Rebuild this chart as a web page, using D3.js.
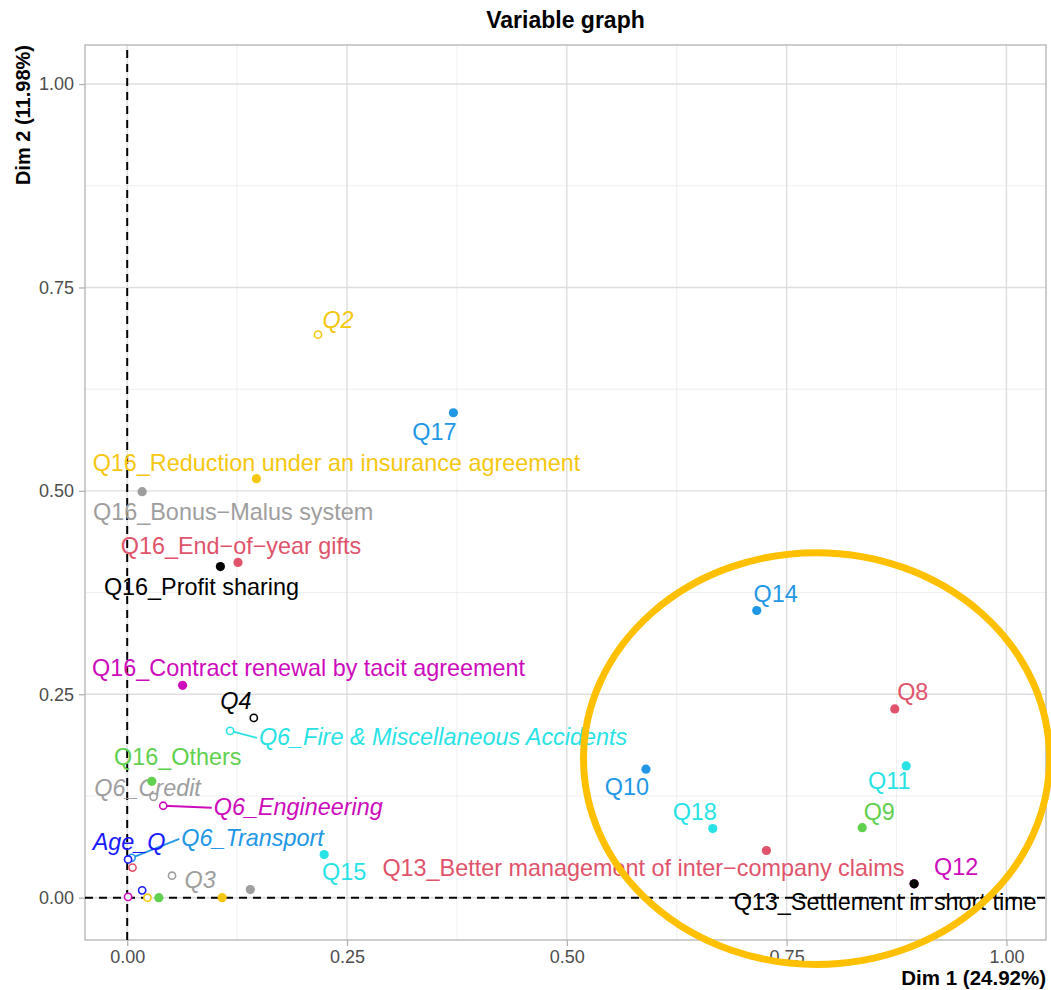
<!DOCTYPE html>
<html lang="en">
<head>
<meta charset="utf-8">
<title>Variable graph</title>
<script src="https://d3js.org/d3.v7.min.js"></script>
<style>
  body { margin: 0; background: #fff; }
  svg { font-family: "Liberation Sans", Arial, sans-serif; }
</style>
</head>
<body>
<div id="chart"></div>
<script>
// variables (active = filled, supplementary = open)
var varNames = ["Q2", "Q17", "Q16_Reduction under an insurance agreement", "Q16_Bonus\u2212Malus system",
  "Q16_End\u2212of\u2212year gifts", "Q16_Profit sharing", "Q16_Contract renewal by tacit agreement", "Q4",
  "Q6_Fire & Miscellaneous Accidents", "Q16_Others", "Q6_Credit", "Q6_Engineering", "Q6_Transport", "Age_Q",
  "p1", "Q3", "p2", "p3", "p4", "p5", "p6", "p7", "Q15",
  "Q13_Better management of inter\u2212company claims", "Q12", "Q13_Settlement in short time",
  "Q14", "Q8", "Q11", "Q10", "Q18", "Q9"];
var dim1 = [0.217, 0.371, 0.147, 0.017, 0.126, 0.106, 0.063, 0.144,
  0.117, 0.028, 0.030, 0.041, 0.005, 0.001,
  0.006, 0.051, 0.017, 0.023, 0.036, 0.108, 0.140, 0.001, 0.224,
  0.727, 0.895, 0.895,
  0.716, 0.873, 0.886, 0.590, 0.666, 0.836];
var dim2 = [0.692, 0.596, 0.515, 0.499, 0.412, 0.407, 0.261, 0.221,
  0.205, 0.143, 0.124, 0.113, 0.049, 0.047,
  0.037, 0.027, 0.009, 0.000, 0.000, 0.000, 0.010, 0.001, 0.053,
  0.058, 0.017, 0.017,
  0.353, 0.232, 0.162, 0.158, 0.085, 0.086];
var isSupp = [1, 0, 0, 0, 0, 0, 0, 1,
  1, 0, 1, 1, 1, 1,
  1, 1, 1, 1, 0, 0, 0, 1, 0,
  0, 0, 0,
  0, 0, 0, 0, 0, 0];
var hasLabel = [1, 1, 1, 1, 1, 1, 1, 1,
  1, 1, 1, 1, 1, 1,
  0, 1, 0, 0, 0, 0, 0, 0, 1,
  1, 1, 1,
  1, 1, 1, 1, 1, 1];

var xTicks = [0, 0.25, 0.5, 0.75, 1];
var yTicks = [0, 0.25, 0.5, 0.75, 1];
var xTitle = "Dim 1 (24.92%)", yTitle = "Dim 2 (11.98%)", chartTitle = "Variable graph";

// highlight ellipse (data units)
var ringCenter = [0.784, 0.171], ringRadius = [0.265, 0.253];

// colours by variable
var pal = {black: "#000000", red: "#DF536B", green: "#61D04F", blue: "#2297E6", cyan: "#28E2E5",
  magenta: "#CD0BBC", yellow: "#F5C710", grey: "#9E9E9E", deep: "#1A1AFF"};
var colourOf = ["yellow", "blue", "yellow", "grey", "red", "black", "magenta", "black",
  "cyan", "green", "grey", "magenta", "blue", "deep",
  "red", "grey", "deep", "yellow", "green", "yellow", "grey", "magenta", "cyan",
  "red", "magenta", "black",
  "blue", "red", "cyan", "blue", "cyan", "green"];
// label offsets from point (px) and whether a connector is drawn
var labelOff = {
  "Q2": [20, -15], "Q17": [-19, 19], "Q16_Reduction under an insurance agreement": [80, -16],
  "Q16_Bonus\u2212Malus system": [91, 20], "Q16_End\u2212of\u2212year gifts": [3, -16],
  "Q16_Profit sharing": [-19, 20], "Q16_Contract renewal by tacit agreement": [126, -17],
  "Q4": [-18, -17], "Q6_Fire & Miscellaneous Accidents": [213, 6], "Q16_Others": [26, -24],
  "Q6_Credit": [-6, -9], "Q6_Engineering": [135, 1], "Q6_Transport": [121, -20], "Age_Q": [1, -17],
  "Q3": [28, 4], "Q15": [20, 17], "Q13_Better management of inter\u2212company claims": [-123, 17],
  "Q12": [42, -17], "Q13_Settlement in short time": [-29, 18], "Q14": [19, -16], "Q8": [18, -17],
  "Q11": [-17, 15], "Q10": [-19, 18], "Q18": [-18, -17], "Q9": [17, -16]
};
var withSegment = ["Q6_Fire & Miscellaneous Accidents", "Q6_Engineering", "Q6_Transport"];

var W = 1051, H = 990;
var margin = {top: 45, right: 5, bottom: 50, left: 85};

var svg = d3.select("#chart").append("svg").attr("width", W).attr("height", H);

var x = d3.scaleLinear().domain([-0.048, 1.045]).range([margin.left, W - margin.right]);
var y = d3.scaleLinear().domain([-0.052, 1.048]).range([H - margin.bottom, margin.top]);

var minor = [-0.125, 0.125, 0.375, 0.625, 0.875];

// grid
var grid = svg.append("g");
grid.selectAll(".vmin").data(minor.filter(function(d){ return d > x.domain()[0]; }))
  .enter().append("line")
  .attr("x1", function(d){ return x(d); }).attr("x2", function(d){ return x(d); })
  .attr("y1", y.range()[0]).attr("y2", y.range()[1])
  .attr("stroke", "#EBEBEB").attr("stroke-width", 0.8);
grid.selectAll(".hmin").data(minor.filter(function(d){ return d > y.domain()[0]; }))
  .enter().append("line")
  .attr("y1", function(d){ return y(d); }).attr("y2", function(d){ return y(d); })
  .attr("x1", x.range()[0]).attr("x2", x.range()[1])
  .attr("stroke", "#EBEBEB").attr("stroke-width", 0.8);
grid.selectAll(".vmaj").data(xTicks).enter().append("line")
  .attr("x1", function(d){ return x(d); }).attr("x2", function(d){ return x(d); })
  .attr("y1", y.range()[0]).attr("y2", y.range()[1])
  .attr("stroke", "#DEDEDE").attr("stroke-width", 1.4);
grid.selectAll(".hmaj").data(yTicks).enter().append("line")
  .attr("y1", function(d){ return y(d); }).attr("y2", function(d){ return y(d); })
  .attr("x1", x.range()[0]).attr("x2", x.range()[1])
  .attr("stroke", "#DEDEDE").attr("stroke-width", 1.4);

// axes
var fmt = d3.format(".2f");
var xAxis = svg.append("g").attr("transform", "translate(0," + y.range()[0] + ")")
  .call(d3.axisBottom(x).tickValues(xTicks).tickFormat(fmt).tickSize(6).tickPadding(4));
var yAxis = svg.append("g").attr("transform", "translate(" + x.range()[0] + ",0)")
  .call(d3.axisLeft(y).tickValues(yTicks).tickFormat(fmt).tickSize(6).tickPadding(5));
[xAxis, yAxis].forEach(function(a){
  a.select(".domain").remove();
  a.selectAll(".tick line").attr("stroke", "#B3B3B3").attr("stroke-width", 1.3);
  a.selectAll(".tick text").attr("fill", "#4D4D4D").style("font-size", "18px")
    .style("font-family", "Liberation Sans, Arial, sans-serif");
});

// panel border
svg.append("rect").attr("x", x.range()[0]).attr("y", y.range()[1])
  .attr("width", x.range()[1] - x.range()[0]).attr("height", y.range()[0] - y.range()[1])
  .attr("fill", "none").attr("stroke", "#B3B3B3").attr("stroke-width", 1.3);

// origin dashed lines
svg.append("line").attr("x1", x(0)).attr("x2", x(0)).attr("y1", y.range()[0]).attr("y2", y.range()[1])
  .attr("stroke", "#000").attr("stroke-width", 2).attr("stroke-dasharray", "8,6");
svg.append("line").attr("y1", y(0)).attr("y2", y(0)).attr("x1", x.range()[0]).attr("x2", x.range()[1])
  .attr("stroke", "#000").attr("stroke-width", 2).attr("stroke-dasharray", "8,6");

var pts = varNames.map(function(n, i){
  return {name: n, x: dim1[i], y: dim2[i], supp: isSupp[i], lab: hasLabel[i], col: pal[colourOf[i]]};
});

// labels and connectors
var labG = svg.append("g");
pts.filter(function(d){ return d.lab; }).forEach(function(d){
  var off = labelOff[d.name];
  var lx = x(d.x) + off[0], ly = y(d.y) + off[1];
  var t = labG.append("text").attr("x", lx).attr("y", ly)
    .attr("text-anchor", "middle").attr("dominant-baseline", "central")
    .attr("fill", d.col).style("font-size", "23.4px")
    .style("font-style", d.supp ? "italic" : "normal")
    .text(d.name);
  if (withSegment.indexOf(d.name) >= 0) {
    var bb = t.node().getBBox();
    labG.append("line").attr("x1", x(d.x)).attr("y1", y(d.y))
      .attr("x2", bb.x - 2).attr("y2", ly + 1)
      .attr("stroke", d.col).attr("stroke-width", 1.8);
  }
});

// points
var ptG = svg.append("g");
ptG.selectAll("circle").data(pts).enter().append("circle")
  .attr("cx", function(d){ return x(d.x); })
  .attr("cy", function(d){ return y(d.y); })
  .attr("r", function(d){ return d.supp ? 3.6 : 4.6; })
  .attr("fill", function(d){ return d.supp ? "#fff" : d.col; })
  .attr("stroke", function(d){ return d.supp ? d.col : "none"; })
  .attr("stroke-width", 1.6);

// highlight ring
svg.append("ellipse")
  .attr("cx", x(ringCenter[0])).attr("cy", y(ringCenter[1]))
  .attr("rx", x(ringCenter[0] + ringRadius[0]) - x(ringCenter[0]))
  .attr("ry", y(ringCenter[1]) - y(ringCenter[1] + ringRadius[1]))
  .attr("fill", "none").attr("stroke", "#FFC000").attr("stroke-width", 7);

// titles
svg.append("text").attr("x", (x.range()[0] + x.range()[1]) / 2).attr("y", 28)
  .attr("text-anchor", "middle").style("font-size", "23px").style("font-weight", "bold")
  .text(chartTitle);
svg.append("text").attr("x", x.range()[1]).attr("y", 985)
  .attr("text-anchor", "end").style("font-size", "20.5px").style("font-weight", "bold")
  .text(xTitle);
svg.append("text").attr("transform", "translate(30," + y.range()[1] + ") rotate(-90)")
  .attr("text-anchor", "end").style("font-size", "20px").style("font-weight", "bold")
  .text(yTitle);
</script>
</body>
</html>
